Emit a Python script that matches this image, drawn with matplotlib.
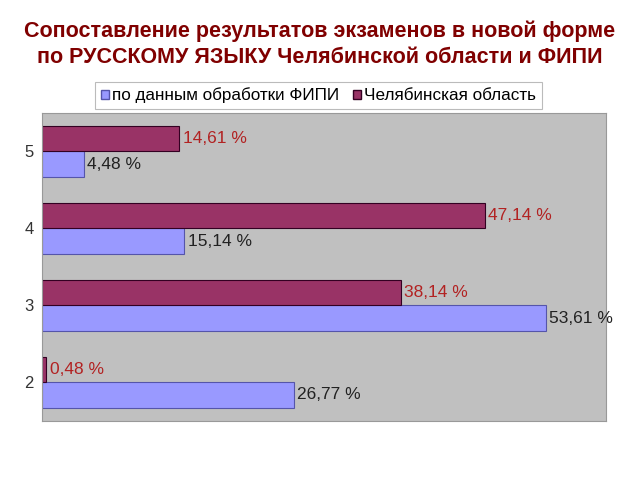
import matplotlib.pyplot as plt
from matplotlib.patches import Patch

grades = ["2", "3", "4", "5"]
fipi = [26.77, 53.61, 15.14, 4.48]
chel = [0.48, 38.14, 47.14, 14.61]
fipi_labels = ["26,77 %", "53,61 %", "15,14 %", "4,48 %"]
chel_labels = ["0,48 %", "38,14 %", "47,14 %", "14,61 %"]
series_names = ["по данным обработки ФИПИ", "Челябинская область"]

plt.rcParams["font.family"] = ["Liberation Sans", "DejaVu Sans"]

fig = plt.figure(figsize=(6.4, 4.8), dpi=100)
ax = fig.add_axes([0.0656, 0.1235, 0.8814, 0.6411])
ax.set_facecolor("#C0C0C0")

pos = [2, 3, 4, 5]
h = 0.33
ax.barh([p - h / 2 for p in pos], fipi, height=h, color="#9999FF",
        edgecolor="#5555AA", linewidth=0.8)
ax.barh([p + h / 2 for p in pos], chel, height=h, color="#993366",
        edgecolor="#330022", linewidth=0.8)

for p, v, t in zip(pos, fipi, fipi_labels):
    ax.text(v + 0.35, p - h / 2, t, va="center", ha="left", fontsize=12.5,
            color="#222222")
for p, v, t in zip(pos, chel, chel_labels):
    ax.text(v + 0.35, p + h / 2, t, va="center", ha="left", fontsize=12.5,
            color="#B22222")

ax.set_xlim(0, 60)
ax.set_ylim(1.5, 5.5)
ax.set_xticks([])
ax.set_yticks(pos)
ax.set_yticklabels(grades, fontsize=12, color="#333333")
ax.tick_params(axis="y", length=0, pad=6)
for s in ax.spines.values():
    s.set_color("#999999")

fig.text(0.5, 0.934, "Сопоставление результатов экзаменов в новой форме",
         ha="center", va="center", fontsize=15.5, fontweight="bold",
         color="#800000")
fig.text(0.5, 0.881, "по РУССКОМУ ЯЗЫКУ Челябинской области и ФИПИ",
         ha="center", va="center", fontsize=15.5, fontweight="bold",
         color="#800000")

handles = [Patch(facecolor="#9999FF", edgecolor="#5555AA"),
           Patch(facecolor="#993366", edgecolor="#330022")]
leg = fig.legend(handles, series_names, loc="center",
                 bbox_to_anchor=(0.498, 0.801), ncol=2, fontsize=12.3,
                 frameon=True, fancybox=False, handlelength=0.45,
                 handleheight=0.45, handletextpad=0.2, columnspacing=0.8,
                 borderpad=0.35)
leg.get_frame().set_edgecolor("#AAAAAA")
leg.get_frame().set_linewidth(0.8)

fig.savefig("out.png", dpi=100)
